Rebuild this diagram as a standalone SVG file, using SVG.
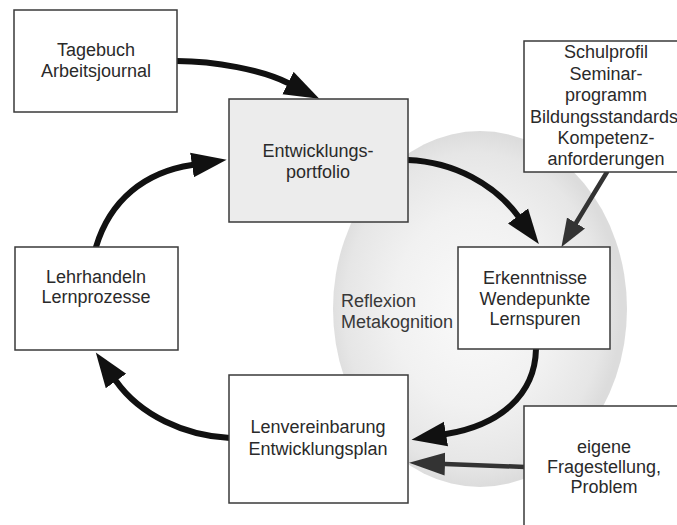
<svg xmlns="http://www.w3.org/2000/svg" width="677" height="525" viewBox="0 0 677 525">
<style>
.box{fill:#fff;stroke:#3a3a3a;stroke-width:1.5}
.gray{fill:#ececec}
.t{font-family:"Liberation Sans",Arial,sans-serif;font-size:18px;fill:#2a2a2a;text-anchor:middle}
.lt{text-anchor:start;fill:#383838}
.cb{fill:none;stroke:#111;stroke-width:6;stroke-linecap:round}
.cg{fill:none;stroke:#333;stroke-width:4.5;stroke-linecap:round}
</style>
<defs>
<radialGradient id="sph" cx="0.48" cy="0.5" r="0.5">
<stop offset="0" stop-color="#fafafa"/>
<stop offset="0.55" stop-color="#f1f1f1"/>
<stop offset="0.88" stop-color="#e6e6e6"/>
<stop offset="1" stop-color="#dcdcdc"/>
</radialGradient>
<marker id="hb" viewBox="0 -13 36 26" markerWidth="36" markerHeight="26" refX="0" refY="0" orient="auto" markerUnits="userSpaceOnUse">
<path d="M0,-12.5 L35,0 L0,12.5 Z" fill="#111"/>
</marker>
<marker id="hg" viewBox="0 -11 29 22" markerWidth="29" markerHeight="22" refX="0" refY="0" orient="auto" markerUnits="userSpaceOnUse">
<path d="M0,-10.5 L28,0 L0,10.5 Z" fill="#333"/>
</marker>
<marker id="hg2" viewBox="0 -12 37 24" markerWidth="37" markerHeight="24" refX="0" refY="0" orient="auto" markerUnits="userSpaceOnUse">
<path d="M0,-11.5 L36,0 L0,11.5 Z" fill="#333"/>
</marker>
</defs>
<rect width="677" height="525" fill="#fff"/>
<ellipse id="sphere" cx="480" cy="309" rx="147" ry="178" fill="url(#sph)"/>
<text class="t lt" x="341" y="307">Reflexion</text>
<text class="t lt" x="341" y="328">Metakognition</text>

<g id="connectors">
<path class="cb" d="M177,61 C215,61 262,70 288,83" marker-end="url(#hb)"/>
<path class="cb" d="M96,247 C110,200 145,172 192,165" marker-end="url(#hb)"/>
<path class="cb" d="M408,160 C455,162 495,185 518,216" marker-end="url(#hb)"/>
<path class="cg" d="M607,172 L576,223" marker-end="url(#hg)"/>
<path class="cb" d="M536,349 C535,395 500,425 446,434" marker-end="url(#hb)"/>
<path class="cg" d="M525,467 L445,464" marker-end="url(#hg2)"/>
<path class="cb" d="M230,438 C185,436 140,415 116,381" marker-end="url(#hb)"/>
</g>

<g id="tagebuch">
<rect class="box" x="14" y="10" width="163" height="102"/>
<text class="t" x="96" y="56">Tagebuch</text>
<text class="t" x="96" y="77">Arbeitsjournal</text>
</g>
<g id="portfolio">
<rect class="box gray" x="229" y="99" width="179" height="123"/>
<text class="t" x="318" y="157">Entwicklungs-</text>
<text class="t" x="318" y="178">portfolio</text>
</g>
<g id="schulprofil">
<rect class="box" x="524" y="41" width="160" height="131"/>
<text class="t" x="606" y="58">Schulprofil</text>
<text class="t" x="606" y="80">Seminar-</text>
<text class="t" x="606" y="101">programm</text>
<text class="t" x="604" y="123">Bildungsstandards</text>
<text class="t" x="606" y="144">Kompetenz-</text>
<text class="t" x="606" y="165">anforderungen</text>
</g>
<g id="erkenntnisse">
<rect class="box" x="458" y="247" width="152" height="102"/>
<text class="t" x="535" y="284">Erkenntnisse</text>
<text class="t" x="535" y="305">Wendepunkte</text>
<text class="t" x="535" y="325">Lernspuren</text>
</g>
<g id="lehrhandeln">
<rect class="box" x="15" y="247" width="163" height="103"/>
<text class="t" x="96" y="283">Lehrhandeln</text>
<text class="t" x="96" y="303">Lernprozesse</text>
</g>
<g id="lernvereinbarung">
<rect class="box" x="229" y="375" width="179" height="128"/>
<text class="t" x="318" y="433">Lenvereinbarung</text>
<text class="t" x="318" y="455">Entwicklungsplan</text>
</g>
<g id="eigene">
<rect class="box" x="524" y="406" width="160" height="130"/>
<text class="t" x="604" y="453">eigene</text>
<text class="t" x="604" y="473">Fragestellung,</text>
<text class="t" x="604" y="493">Problem</text>
</g>
</svg>
